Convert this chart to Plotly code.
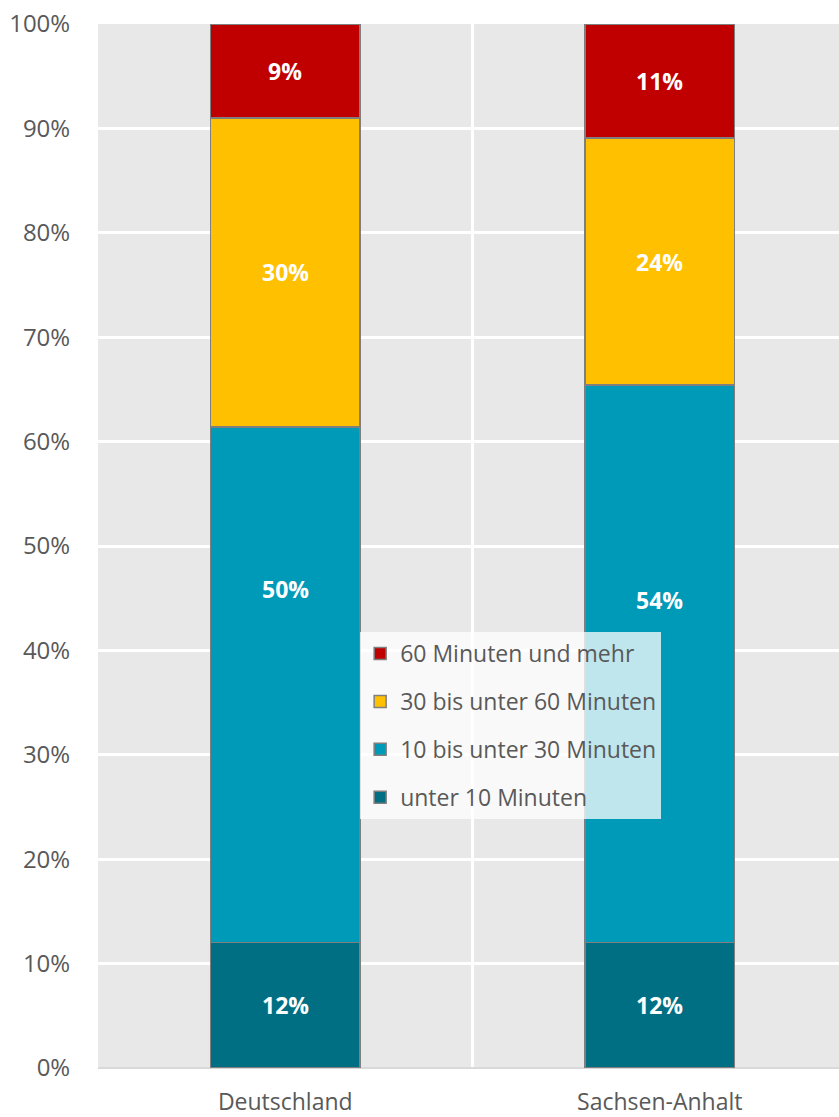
import plotly.graph_objects as go

categories = ["Deutschland", "Sachsen-Anhalt"]
series_names = ["unter 10 Minuten", "10 bis unter 30 Minuten", "30 bis unter 60 Minuten", "60 Minuten und mehr"]
under10 = [12.0, 12.0]
m10_30 = [49.4, 53.4]
m30_60 = [29.6, 23.7]
m60plus = [9.0, 10.9]
label_under10 = ["12%", "12%"]
label_10_30 = ["50%", "54%"]
label_30_60 = ["30%", "24%"]
label_60plus = ["9%", "11%"]
y_ticks = [0, 10, 20, 30, 40, 50, 60, 70, 80, 90, 100]

colors = ["#006F83", "#009AB9", "#FFC000", "#C00000"]
values = [under10, m10_30, m30_60, m60plus]
labels = [label_under10, label_10_30, label_30_60, label_60plus]
label_shift = [[0, 0], [96, 64], [0, 0], [0, 0]]

FONT = "Open Sans, Noto Sans, sans-serif"
fig = go.Figure()
n = len(series_names)
for i, (name, vals, col) in enumerate(zip(series_names, values, colors)):
    fig.add_trace(go.Bar(
        x=categories, y=[v / 100 for v in vals], name=name,
        marker=dict(color=col, line=dict(color="#7F7F7F", width=1.5)),
        width=0.40, legendgroup=name, legendrank=n - i, hoverinfo="skip",
    ))

annotations = []
for ci, cat in enumerate(categories):
    base = 0.0
    for si in range(len(values)):
        v = values[si][ci] / 100
        annotations.append(dict(
            x=cat, y=base + v / 2, xref="x", yref="y", text="<b>" + labels[si][ci] + "</b>",
            showarrow=False, yshift=label_shift[si][ci],
            font=dict(family=FONT, size=23, color="white"),
        ))
        base += v

fig.update_layout(
    barmode="stack",
    width=847, height=1117,
    margin=dict(l=98, r=0, t=24, b=49),
    paper_bgcolor="white",
    plot_bgcolor="#E8E8E8",
    font=dict(family=FONT, size=24, color="#595959"),
    annotations=annotations,
    showlegend=True,
    legend=dict(
        x=0.35, y=0.4176, xanchor="left", yanchor="top",
        bgcolor="rgba(255,255,255,0.75)",
        traceorder="grouped", tracegroupgap=15,
        font=dict(family=FONT, size=23, color="#595959"),
        itemclick=False, itemdoubleclick=False,
    ),
    shapes=[dict(type="line", xref="x", yref="paper", x0=0.5, x1=0.5, y0=0, y1=1,
                 line=dict(color="white", width=3), layer="below")],
)
fig.update_yaxes(
    range=[0, 1], tickvals=[t / 100 for t in y_ticks], ticktext=[f"{t}%" for t in y_ticks],
    showgrid=True, gridcolor="white", gridwidth=3,
    zeroline=True, zerolinecolor="#D9D9D9", zerolinewidth=2,
    ticks="outside", ticklen=22, tickcolor="rgba(0,0,0,0)",
    tickfont=dict(family=FONT, size=24, color="#595959"),
    automargin=False, fixedrange=True,
)
fig.update_xaxes(
    showgrid=False, ticks="outside", ticklen=13, tickcolor="rgba(0,0,0,0)",
    tickfont=dict(family=FONT, size=23, color="#595959"),
    automargin=False, fixedrange=True,
)
fig.write_html("out.html", config={"displayModeBar": False},
               post_script="document.body.style.margin='0';document.body.style.overflow='hidden';")
